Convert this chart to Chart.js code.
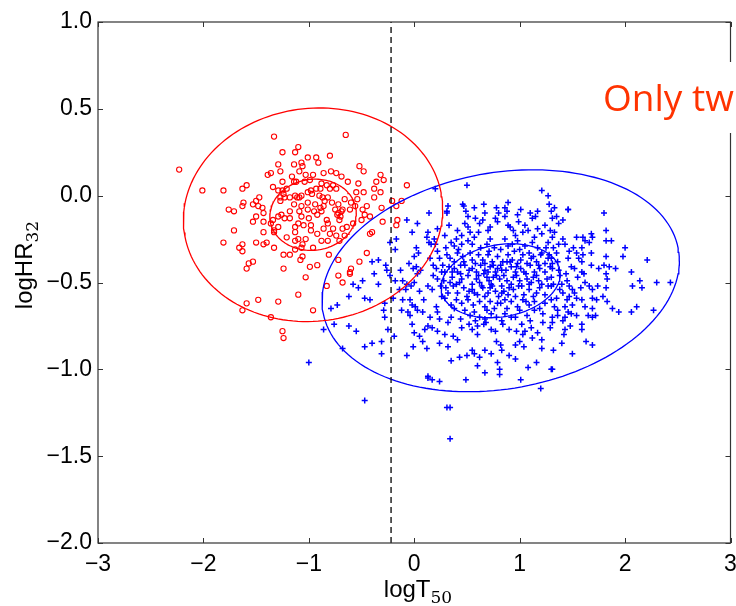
<!DOCTYPE html>
<html>
<head>
<meta charset="utf-8">
<script src="https://cdn.jsdelivr.net/npm/chart.js@4.4.1/dist/chart.umd.min.js"></script>
<style>
  html, body { margin: 0; padding: 0; background: #fff; }
  #wrap { width: 736px; height: 606px; }
</style>
</head>
<body>
<div id="wrap"><canvas id="grbChart" width="736" height="606"></canvas></div>
<script>
// =============================
// DATA
// =============================
const xRange = [-3, 3];
const yRange = [-2, 1];
const xTicks = [-3, -2, -1, 0, 1, 2, 3];
const yTicks = [-2, -1.5, -1, -0.5, 0, 0.5, 1];
const cutX = -0.22;

// short bursts (red circles) [logT50, logHR32]
const shortPts = [
[-2.23,0.15],[-1.33,0.34],[-2.01,0.03],[-1.81,0.03],[-1.63,0.04],[-1.59,0.06],[-1.76,-0.08],[-1.71,-0.09],[-1.63,-0.06],[-1.62,-0.04],
[-1.53,-0.05],[-1.50,-0.03],[-1.47,-0.01],[-1.48,-0.06],[-1.44,-0.07],[-1.43,-0.10],[-1.53,-0.15],[-1.50,-0.12],[-1.43,-0.15],[-1.71,-0.20],
[-1.81,-0.27],[-1.66,-0.30],[-1.63,-0.28],[-1.63,-0.32],[-1.50,-0.27],[-1.43,-0.28],[-1.40,-0.27],[-1.33,-0.30],[-1.57,-0.39],[-1.53,-0.38],
[-1.59,-0.42],[-1.43,-0.21],[-1.33,-0.21],[-1.36,-0.16],[-1.34,-0.14],[-1.29,-0.12],[-1.26,-0.11],[-1.23,-0.13],[-1.18,-0.13],[-1.21,-0.24],
[-1.24,-0.34],[-1.18,-0.34],[-1.24,-0.42],[-1.10,-0.57],[-1.13,-0.26],[-1.13,-0.31],[-1.59,-0.62],[-1.48,-0.60],[-1.63,-0.66],[-1.29,-0.61],
[-1.36,-0.70],[-1.25,-0.78],[-1.24,-0.82],[-1.25,0.25],[-1.13,0.25],[-1.10,0.28],[-1.29,0.18],[-1.14,0.18],[-1.27,0.14],[-1.36,0.13],
[-1.39,0.12],[-1.09,0.14],[-1.25,0.08],[-1.14,0.08],[-1.12,0.08],[-1.34,0.05],[-1.29,0.03],[-1.25,0.03],[-1.21,0.04],[-1.24,0.01],
[-1.27,-0.01],[-1.18,-0.01],[-1.23,-0.01],[-1.13,0.00],[-1.09,-0.01],[-1.14,-0.05],[-1.27,-0.03],[-1.18,-0.09],[-1.09,-0.09],[-1.10,-0.16],
[-1.13,-0.18],[-1.29,-0.18],[-1.33,-0.20],[-1.13,-0.21],[-0.65,0.35],[-1.01,0.22],[-0.93,0.22],[-0.80,0.23],[-0.91,0.19],[-1.07,0.19],
[-1.06,0.17],[-0.52,0.17],[-0.48,0.14],[-0.86,0.13],[-0.79,0.14],[-0.74,0.13],[-0.69,0.11],[-0.96,0.12],[-1.03,0.12],[-0.32,0.12],
[-0.29,0.09],[-0.36,0.08],[-0.53,0.07],[-0.07,0.06],[-1.04,0.08],[-0.88,0.07],[-0.83,0.06],[-0.77,0.06],[-0.74,0.04],[-0.80,0.04],
[-0.89,0.04],[-0.98,0.03],[-0.93,0.04],[-0.38,0.04],[-0.48,0.02],[-0.32,0.02],[-0.55,0.02],[-1.01,0.02],[-0.97,0.01],[-1.07,0.00],
[-1.11,-0.01],[-0.82,-0.01],[-0.87,-0.01],[-0.38,-0.01],[-0.66,-0.02],[-0.54,-0.02],[-0.21,-0.03],[-0.12,-0.03],[-0.60,-0.04],[-1.01,-0.04],
[-0.94,-0.05],[-0.78,-0.04],[-0.72,-0.05],[-0.45,-0.06],[-1.07,-0.06],[-0.86,-0.06],[-0.89,-0.07],[-0.31,-0.07],[-0.17,-0.06],[-1.01,-0.08],
[-0.68,-0.08],[-0.49,-0.08],[-0.72,-0.10],[-0.70,-0.12],[-0.69,-0.09],[-0.73,-0.11],[-0.47,-0.11],[-0.42,-0.12],[-0.92,-0.11],[-1.07,-0.12],
[-0.83,-0.14],[-0.50,-0.14],[-0.30,-0.15],[-1.05,-0.17],[-0.98,-0.17],[-0.82,-0.16],[-0.64,-0.18],[-0.68,-0.19],[-0.86,-0.19],[-0.98,-0.20],
[-0.40,-0.21],[-0.80,-0.22],[-0.92,-0.22],[-0.66,-0.23],[-0.74,-0.23],[-1.10,-0.25],[-1.03,-0.25],[-0.88,-0.26],[-0.82,-0.26],[-0.71,-0.26],
[-1.06,-0.28],[-1.07,-0.30],[-0.96,-0.30],[-0.81,-0.34],[-1.08,-0.37],[-0.92,-0.40],[-0.99,-0.41],[-0.45,-0.33],[-0.52,-0.38],[-0.72,-0.37],
[-0.61,-0.44],[-1.03,-0.47],[-0.72,-0.46],[-0.83,-0.52],[-0.68,-0.50],[-0.96,-0.66],[-1.06,-0.35],[-0.16,-0.14],[-0.17,-0.17],[-0.42,-0.22],
[-0.60,-0.42],[-0.61,-0.45],[-0.95,-0.09],[-0.85,-0.03],[-1.00,-0.13],[-0.90,0.00],[-0.77,-0.19],[-0.61,-0.08],[-0.58,-0.16],[-1.16,0.11],
[-0.99,0.09],[-0.63,0.08],[-0.71,-0.14],[-0.75,-0.08],[-0.56,-0.06],[-0.88,-0.09]
];

// long bursts (blue pluses) [logT50, logHR32]
const longPts = [
[-0.07,-0.14],[0.03,-0.16],[0.13,-0.21],[0.14,-0.27],[-0.02,-0.21],[-0.17,-0.25],[-0.23,-0.27],[-0.18,-0.31],[0.02,-0.30],[0.04,-0.33],
[0.00,-0.35],[-0.40,-0.38],[-0.34,-0.37],[-0.27,-0.40],[-0.26,-0.43],[-0.38,-0.45],[-0.23,-0.46],[-0.18,-0.49],[-0.13,-0.43],[-0.05,-0.39],
[-0.01,-0.42],[0.02,-0.41],[0.06,-0.43],[0.03,-0.45],[-0.11,-0.49],[-0.07,-0.51],[-0.03,-0.52],[0.00,-0.50],[-0.08,-0.54],[0.05,-0.55],
[-0.14,-0.54],[-0.20,-0.59],[-0.11,-0.60],[-0.04,-0.60],[-0.02,-0.63],[0.01,-0.64],[0.03,-0.66],[-0.06,-0.67],[-0.04,-0.69],[-0.12,-0.66],
[-0.28,-0.62],[-0.29,-0.66],[-0.28,-0.70],[-0.34,-0.51],[-0.49,-0.49],[-0.53,-0.53],[-0.58,-0.51],[-0.62,-0.58],[-0.47,-0.59],[-0.42,-0.60],
[-0.73,-0.63],[-0.79,-0.65],[-0.76,-0.74],[-0.86,-0.77],[-0.62,-0.75],[-0.55,-0.78],[-0.68,-0.88],[-0.47,-0.87],[-0.40,-0.85],[-0.31,-0.84],
[-0.31,-0.91],[-0.25,-0.77],[-0.19,-0.81],[-0.07,-0.92],[-0.02,-0.74],[0.00,-0.79],[0.05,-0.81],[0.10,-0.77],[0.08,-0.84],[0.13,-0.75],
[0.12,-0.88],[-0.01,-0.87],[0.13,-1.04],[-1.00,-0.96],[-0.47,-1.18],[0.09,-0.60],[0.08,-0.67],[0.20,0.04],[0.46,-0.05],[0.34,-1.40],
[0.50,0.06],[1.21,0.03],[1.27,0.00],[0.14,-0.10],[0.32,-0.06],[0.31,-0.09],[0.47,-0.06],[0.49,-0.09],[0.57,-0.07],[0.66,-0.05],
[0.78,-0.07],[0.80,-0.10],[0.89,-0.04],[0.86,-0.07],[0.88,-0.09],[1.01,-0.08],[0.98,-0.11],[1.10,-0.10],[1.12,-0.13],[1.17,-0.09],
[1.15,-0.12],[1.28,-0.05],[1.30,-0.09],[0.77,-0.13],[0.79,-0.15],[0.86,-0.12],[0.89,-0.17],[0.99,-0.15],[0.48,-0.16],[0.51,-0.18],
[0.61,-0.21],[0.41,-0.20],[0.45,-0.23],[0.53,-0.21],[0.33,-0.17],[0.22,-0.19],[0.91,-0.18],[0.94,-0.20],[0.96,-0.23],[1.05,-0.17],
[1.08,-0.20],[1.17,-0.19],[1.21,-0.22],[1.24,-0.17],[1.29,-0.20],[0.67,-0.10],[0.51,-0.12],[0.40,-0.25],[0.29,-0.23],[0.31,-0.10],
[1.33,-0.07],[1.46,-0.08],[0.65,-0.14],[0.72,-0.18],[0.58,-0.13],[1.03,-0.21],
[0.12,-0.24],[0.16,-0.28],[0.19,-0.25],[0.20,-0.28],[0.35,-0.27],[0.38,-0.29],[0.51,-0.26],[0.55,-0.28],[0.57,-0.24],[0.42,-0.31],
[0.72,-0.25],[0.69,-0.28],[0.76,-0.30],[0.82,-0.31],[0.89,-0.29],[0.93,-0.28],[1.00,-0.31],[1.05,-0.29],[1.09,-0.33],[1.17,-0.30],
[1.21,-0.33],[1.25,-0.30],[1.28,-0.34],[0.22,-0.32],[0.24,-0.36],[0.31,-0.34],[0.34,-0.36],[0.38,-0.38],[0.41,-0.33],[0.46,-0.35],
[0.47,-0.38],[0.53,-0.33],[0.55,-0.37],[0.61,-0.34],[0.65,-0.37],[0.70,-0.34],[0.74,-0.38],[0.79,-0.35],[0.84,-0.38],[0.89,-0.34],
[0.93,-0.37],[0.98,-0.39],[1.03,-0.34],[1.07,-0.39],[1.11,-0.36],[1.16,-0.38],[1.20,-0.34],[1.24,-0.39],[1.27,-0.36],[1.31,-0.39],
[0.15,-0.36],[0.18,-0.40],[0.21,-0.42],[0.27,-0.40],[0.29,-0.44],[0.33,-0.41],[0.38,-0.42],[0.41,-0.44],[0.48,-0.40],[0.55,-0.42],
[0.59,-0.44],[0.63,-0.40],[0.67,-0.43],[0.72,-0.41],[0.77,-0.44],[0.82,-0.40],[0.87,-0.43],[0.92,-0.41],[0.96,-0.44],[1.01,-0.42],
[1.06,-0.45],[1.10,-0.40],[1.14,-0.44],[1.19,-0.42],[1.24,-0.44],[1.29,-0.41],[0.18,-0.46],[0.22,-0.48],[0.28,-0.49],[0.25,-0.52],
[0.36,-0.47],[0.40,-0.51],[0.45,-0.48],[0.51,-0.46],[0.55,-0.51],[0.59,-0.48],[0.64,-0.52],[0.69,-0.47],[0.73,-0.51],[0.78,-0.46],
[0.83,-0.52],[0.88,-0.49],[0.92,-0.51],[0.97,-0.46],[1.02,-0.52],[1.07,-0.48],[1.11,-0.50],[1.16,-0.46],[1.21,-0.51],[1.26,-0.48],
[1.30,-0.52],[0.13,-0.52],[0.17,-0.54],[0.30,-0.53],[0.32,-0.56],[0.37,-0.52],[0.41,-0.56],[0.47,-0.53],[0.50,-0.58],[0.55,-0.54],
[0.60,-0.57],[0.65,-0.53],[0.70,-0.56],[0.74,-0.52],[0.80,-0.58],[0.85,-0.55],[0.89,-0.57],[0.94,-0.54],[0.99,-0.52],[1.04,-0.57],
[1.09,-0.54],[1.13,-0.58],[1.19,-0.53],[1.24,-0.57],[1.27,-0.52],[0.29,-0.59],[0.35,-0.63],[0.40,-0.60],[0.45,-0.62],[0.51,-0.60],
[0.56,-0.63],[0.62,-0.61],[0.67,-0.64],[0.69,-0.66],[0.72,-0.61],[0.76,-0.65],[0.82,-0.62],[0.88,-0.65],[0.92,-0.61],[0.98,-0.64],
[1.03,-0.60],[1.09,-0.63],[1.14,-0.61],[1.19,-0.65],[1.24,-0.62],[0.48,-0.66],[0.53,-0.69],[0.57,-0.67],[0.62,-0.70],[0.67,-0.71],
[0.68,-0.73],[0.73,-0.68],[0.78,-0.70],[0.86,-0.68],[0.92,-0.70],[1.00,-0.66],[1.07,-0.69],[1.14,-0.66],[1.22,-0.68],[0.21,-0.64],
[0.22,-0.67],[0.24,-0.71],[0.15,-0.70],[0.32,-0.73],[0.35,-0.70],[0.17,-0.76],[0.22,-0.78],[0.29,-0.80],[0.45,-0.76],[0.52,-0.74],
[0.55,-0.77],[0.60,-0.75],[0.60,-0.80],[0.66,-0.74],[0.73,-0.77],[0.77,-0.78],[0.84,-0.74],[0.90,-0.77],[0.97,-0.78],[1.02,-0.74],
[1.05,-0.78],[1.11,-0.76],[1.17,-0.79],[1.22,-0.73],[1.29,-0.76],[1.03,-0.80],[1.12,-0.82],[0.24,-0.85],[0.32,-0.87],[0.37,-0.81],
[0.41,-0.83],[0.55,-0.89],[0.57,-0.91],[0.50,-0.92],[0.78,-0.84],[0.82,-0.86],[0.83,-0.89],[0.96,-0.86],[1.00,-0.84],[1.04,-0.87],
[1.21,-0.83],[1.21,-0.88],[0.90,-0.92],[0.73,-0.91],[0.67,-0.89],[0.35,-0.95],[0.43,-0.93],[0.60,-0.98],[0.62,-0.93],[0.79,-0.96],
[0.96,-0.94],[1.08,-0.99],[1.16,-0.96],[1.30,-1.00],[0.13,-1.05],[0.17,-1.06],[0.24,-1.07],[0.49,-1.06],[0.67,-1.02],[0.81,-1.00],
[0.81,-1.03],[1.01,-1.06],[1.20,-1.11],[0.31,-1.22],[0.34,-1.22],
[1.46,-0.08],[1.80,-0.10],[1.31,-0.13],[1.41,-0.14],[1.37,-0.16],[1.33,-0.21],[1.82,-0.20],[1.68,-0.22],[1.69,-0.24],[1.60,-0.24],
[1.62,-0.26],[1.54,-0.24],[1.41,-0.25],[1.43,-0.28],[1.66,-0.27],[1.82,-0.26],[1.87,-0.26],[2.00,-0.30],[1.51,-0.30],[1.47,-0.32],
[1.54,-0.33],[1.59,-0.30],[1.60,-0.34],[1.68,-0.33],[1.98,-0.35],[2.21,-0.37],[1.82,-0.35],[1.56,-0.36],[1.59,-0.38],[1.49,-0.41],
[1.52,-0.42],[1.68,-0.40],[1.75,-0.42],[1.80,-0.40],[1.85,-0.41],[1.91,-0.42],[1.59,-0.44],[1.61,-0.45],[1.82,-0.45],[1.83,-0.48],
[2.06,-0.44],[2.14,-0.49],[2.30,-0.50],[2.43,-0.50],[2.07,-0.52],[2.16,-0.53],[1.45,-0.49],[1.47,-0.52],[1.50,-0.54],[1.58,-0.53],
[1.66,-0.52],[1.69,-0.54],[1.74,-0.52],[1.38,-0.54],[1.41,-0.56],[1.82,-0.53],[1.79,-0.58],[1.69,-0.59],[1.73,-0.60],[1.52,-0.56],
[1.54,-0.59],[1.59,-0.60],[1.45,-0.60],[1.47,-0.58],[1.83,-0.61],[2.11,-0.64],[1.88,-0.65],[1.94,-0.67],[2.06,-0.67],[2.27,-0.66],
[1.62,-0.64],[1.69,-0.65],[1.33,-0.64],[1.36,-0.66],[1.43,-0.64],[1.46,-0.67],[1.49,-0.68],[1.54,-0.69],[1.65,-0.69],[1.69,-0.70],
[1.72,-0.69],[1.41,-0.72],[1.43,-0.70],[1.31,-0.73],[1.48,-0.75],[1.59,-0.74],[1.59,-0.77],[1.43,-0.77],[1.42,-0.80],[1.40,-0.85],
[1.63,-0.84],[1.69,-0.86],[1.32,-0.89],[1.50,-0.91],[1.31,-1.00],[1.31,-0.24],[1.32,-0.30],[1.35,-0.33],[1.30,-0.36],[1.36,-0.38],
[1.31,-0.42],[1.37,-0.43],[1.30,-0.47],[1.38,-0.46],[1.32,-0.51],[1.40,-0.51],[1.30,-0.60],[1.35,-0.59],[1.36,-0.69],[1.31,-0.70],
[0.36,-0.44],[0.44,-0.45],[0.52,-0.43],[0.61,-0.46],[0.70,-0.44],[0.79,-0.42],[0.85,-0.46],[0.94,-0.47],[1.04,-0.44],[1.13,-0.47],
[0.58,-0.39],[0.67,-0.39],[0.75,-0.40],[0.91,-0.38],[1.01,-0.37],[1.18,-0.40],[0.44,-0.40],[0.26,-0.44],[0.62,-0.50],[0.71,-0.49],
[0.81,-0.48],[0.90,-0.53],[1.00,-0.49],[1.09,-0.51],[1.18,-0.49],[0.43,-0.50],[0.34,-0.50],[0.57,-0.56],[0.67,-0.58],[0.77,-0.55],
[0.86,-0.60],[0.96,-0.58],[1.06,-0.61],[1.16,-0.56],[0.83,-0.43],[0.75,-0.47],[0.66,-0.45],[0.97,-0.41],[0.88,-0.38],[0.52,-0.55],
[0.79,-0.62],[0.71,-0.32],[0.63,-0.30],[0.98,-0.26],[1.12,-0.27],[0.86,-0.25],[1.14,-0.24],[0.45,-0.28],[0.30,-0.30],[0.26,-0.58],
[0.38,-0.65],[0.58,-0.72],[0.83,-0.72],[0.96,-0.70],[1.10,-0.72],[0.44,-0.71],[1.37,-0.28],[1.46,-0.36],[1.55,-0.47],[1.44,-0.45],
[1.62,-0.50],[1.50,-0.63],[1.27,-0.27],[1.35,-0.12],[0.70,-0.20],[0.62,-0.16],[0.95,-0.32],[1.13,-0.35],[0.83,-0.56],[0.72,-0.53]
];

// confidence ellipses: centre, 1-sigma half widths, correlation
const shortCenter = [-0.96, -0.11];
const shortSigma = [0.41, 0.205];
const shortCorr = 0.05;
const longCenter = [0.82, -0.49];
const longSigma = [0.565, 0.213];
const longCorr = 0.18;
const ellipseLevels = [1, 3];

// =============================
// HELPERS
// =============================
function toXY(arr){
  return arr.map(function(p){ return { x: p[0], y: p[1] }; });
}

function ellipseCurve(c, s, r, k){
  let pts = [];
  let n = 160;
  for (let i = 0; i <= n; i++){
    let t = i / n * 2 * Math.PI;
    pts.push({
      x: c[0] + k * s[0] * Math.cos(t),
      y: c[1] + k * s[1] * (r * Math.cos(t) + Math.sqrt(1 - r * r) * Math.sin(t))
    });
  }
  return pts;
}

function fmtMinus(v, d){
  let s = Math.abs(v).toFixed(d);
  return (v < 0 ? "\u2212" : "") + s;
}

let ellipseSets = [];
ellipseLevels.forEach(function(k){
  ellipseSets.push({
    type: "line", data: ellipseCurve(shortCenter, shortSigma, shortCorr, k),
    borderColor: "#ff0000", borderWidth: 1.3, pointRadius: 0, fill: false, order: 1
  });
  ellipseSets.push({
    type: "line", data: ellipseCurve(longCenter, longSigma, longCorr, k),
    borderColor: "#0000ff", borderWidth: 1.3, pointRadius: 0, fill: false, order: 1
  });
});

// =============================
// FRAME, TICKS, TITLES, NOTE
// =============================
const framePlugin = {
  id: "frame",
  afterDraw(chart){
    let ctx = chart.ctx;
    let a = chart.chartArea;
    let xs = chart.scales.x, ys = chart.scales.y;
    ctx.save();
    ctx.strokeStyle = "#333";
    ctx.lineWidth = 1.2;
    ctx.strokeRect(a.left, a.top, a.right - a.left, a.bottom - a.top);
    ctx.lineWidth = 1;
    ctx.beginPath();
    xTicks.forEach(function(v){
      let px = Math.round(xs.getPixelForValue(v)) + 0.5;
      ctx.moveTo(px, a.bottom); ctx.lineTo(px, a.bottom - 5);
      ctx.moveTo(px, a.top); ctx.lineTo(px, a.top + 5);
    });
    yTicks.forEach(function(v){
      let py = Math.round(ys.getPixelForValue(v)) + 0.5;
      ctx.moveTo(a.left, py); ctx.lineTo(a.left + 5, py);
      ctx.moveTo(a.right, py); ctx.lineTo(a.right - 5, py);
    });
    ctx.stroke();

    // x title: logT with subscript 50
    ctx.fillStyle = "#000";
    ctx.textBaseline = "alphabetic";
    ctx.textAlign = "left";
    ctx.font = "24px 'Liberation Sans', Arial, sans-serif";
    let w1 = ctx.measureText("logT").width;
    ctx.font = "17px 'DejaVu Serif', serif";
    let w2 = ctx.measureText("50").width;
    let x0 = 418 - (w1 + w2) / 2;
    ctx.font = "24px 'Liberation Sans', Arial, sans-serif";
    ctx.fillText("logT", x0, 597);
    ctx.font = "17px 'DejaVu Serif', serif";
    ctx.fillText("50", x0 + w1, 603);

    // y title: logHR with subscript 32
    ctx.save();
    ctx.translate(32, 265);
    ctx.rotate(-Math.PI / 2);
    ctx.font = "24px 'Liberation Sans', Arial, sans-serif";
    let w3 = ctx.measureText("logHR").width;
    ctx.font = "17px 'DejaVu Serif', serif";
    let w4 = ctx.measureText("32").width;
    let y0 = -(w3 + w4) / 2;
    ctx.font = "24px 'Liberation Sans', Arial, sans-serif";
    ctx.fillText("logHR", y0, 0);
    ctx.font = "17px 'DejaVu Serif', serif";
    ctx.fillText("32", y0 + w3, 6);
    ctx.restore();

    // overlaid slide note (cut off by the page edge)
    ctx.fillStyle = "#fff";
    ctx.fillRect(598, 62, 138, 71);
    ctx.fillStyle = "#ff3300";
    ctx.font = "37px 'Open Sans', sans-serif";
    ctx.fillText("Only tw", 603, 111);
    ctx.restore();
  }
};

// =============================
// CHART
// =============================
const ctx = document.getElementById("grbChart");

new Chart(ctx, {
  type: "scatter",
  data: {
    datasets: [
      {
        data: toXY(shortPts),
        pointStyle: "circle",
        pointRadius: 2.6,
        borderColor: "#ff0000",
        backgroundColor: "rgba(0,0,0,0)",
        borderWidth: 1.1,
        order: 3
      },
      {
        data: toXY(longPts),
        pointStyle: "cross",
        pointRadius: 3,
        borderColor: "#0000ff",
        backgroundColor: "#0000ff",
        borderWidth: 1.5,
        order: 2
      },
      {
        type: "line",
        data: [{ x: cutX, y: yRange[0] }, { x: cutX, y: yRange[1] }],
        borderColor: "#000",
        borderWidth: 1.3,
        borderDash: [6, 4],
        pointRadius: 0,
        fill: false,
        order: 0
      }
    ].concat(ellipseSets)
  },
  options: {
    responsive: false,
    devicePixelRatio: 1,
    animation: false,
    layout: { padding: { top: 22, right: 5, left: 0, bottom: 0 } },
    plugins: { legend: { display: false }, tooltip: { enabled: false } },
    scales: {
      x: {
        type: "linear",
        min: xRange[0], max: xRange[1],
        afterFit: function(s){ s.height = 63; s.paddingLeft = 0; s.paddingRight = 0; },
        afterBuildTicks: function(s){ s.ticks = xTicks.map(function(v){ return { value: v }; }); },
        grid: { display: false, drawTicks: false },
        border: { display: false },
        ticks: {
          color: "#000",
          padding: 8,
          maxRotation: 0,
          font: { family: "'Liberation Sans', Arial, sans-serif", size: 23 },
          callback: function(v){ return fmtMinus(v, 0); }
        }
      },
      y: {
        type: "linear",
        min: yRange[0], max: yRange[1],
        afterFit: function(s){ s.width = 98; s.paddingTop = 0; s.paddingBottom = 0; },
        afterBuildTicks: function(s){ s.ticks = yTicks.map(function(v){ return { value: v }; }); },
        grid: { display: false, drawTicks: false },
        border: { display: false },
        ticks: {
          color: "#000",
          padding: 6,
          font: { family: "'Liberation Sans', Arial, sans-serif", size: 23 },
          callback: function(v){ return fmtMinus(v, 1); }
        }
      }
    }
  },
  plugins: [framePlugin]
});
</script>
</body>
</html>
